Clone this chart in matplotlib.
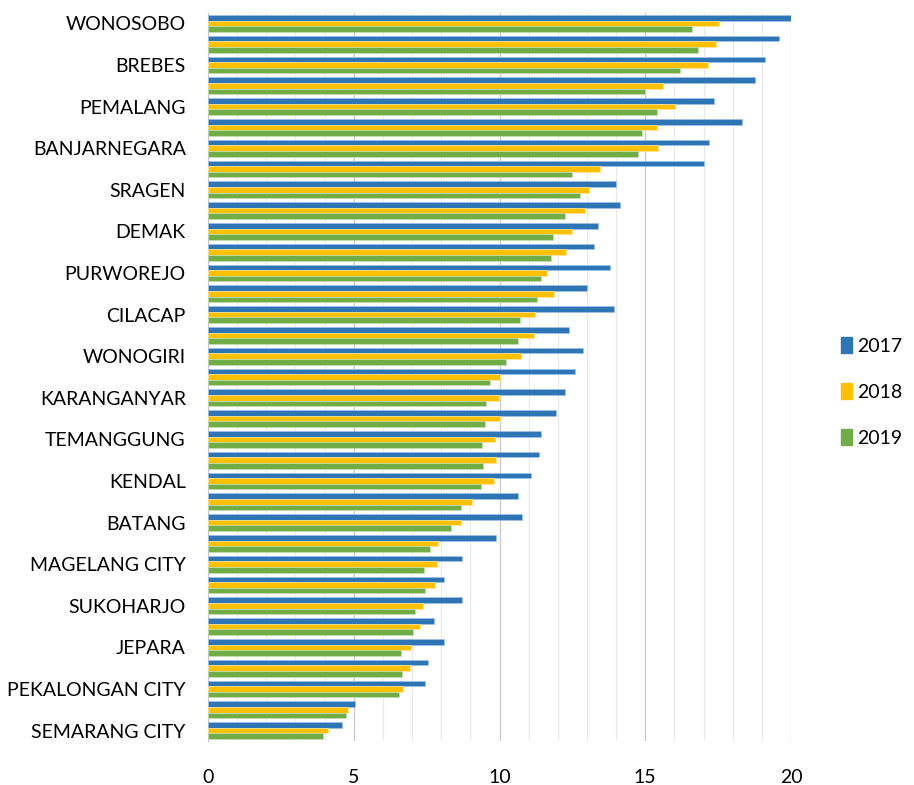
import matplotlib.pyplot as plt
from matplotlib.patches import Patch
import numpy as np

regions = ["WONOSOBO", "KEBUMEN", "BREBES", "PURBALINGGA", "PEMALANG", "REMBANG",
           "BANJARNEGARA", "BANYUMAS", "SRAGEN", "KLATEN", "DEMAK", "GROBOGAN",
           "PURWOREJO", "BLORA", "CILACAP", "BOYOLALI", "WONOGIRI", "PEKALONGAN",
           "KARANGANYAR", "MAGELANG", "TEMANGGUNG", "PATI", "KENDAL", "SURAKARTA CITY",
           "BATANG", "TEGAL", "MAGELANG CITY", "TEGAL CITY", "SUKOHARJO", "SEMARANG",
           "JEPARA", "KUDUS", "PEKALONGAN CITY", "SALATIGA CITY", "SEMARANG CITY"]

v2017 = [20.0, 19.58, 19.12, 18.78, 17.35, 18.32, 17.19, 17.03, 13.98, 14.12,
         13.38, 13.24, 13.78, 13.00, 13.92, 12.38, 12.88, 12.58, 12.24, 11.94,
         11.43, 11.35, 11.07, 10.63, 10.77, 9.87, 8.73, 8.08, 8.73, 7.76,
         8.10, 7.56, 7.44, 5.04, 4.59]
v2018 = [17.53, 17.43, 17.15, 15.61, 16.01, 15.39, 15.43, 13.46, 13.08, 12.92,
         12.50, 12.28, 11.63, 11.86, 11.21, 11.19, 10.73, 10.03, 9.97, 10.01,
         9.85, 9.87, 9.81, 9.05, 8.67, 7.90, 7.84, 7.78, 7.38, 7.28,
         6.96, 6.94, 6.70, 4.81, 4.11]
v2019 = [16.59, 16.81, 16.19, 15.00, 15.39, 14.90, 14.74, 12.50, 12.76, 12.24,
         11.82, 11.76, 11.41, 11.29, 10.69, 10.65, 10.21, 9.69, 9.53, 9.51,
         9.39, 9.43, 9.37, 8.69, 8.32, 7.60, 7.42, 7.44, 7.10, 7.02,
         6.62, 6.66, 6.56, 4.72, 3.95]

years = ["2017", "2018", "2019"]
colors = ["#2E75B6", "#FFC000", "#70AD47"]
edges = ["#9DC3E6", "#FFE699", "#C5E0B4"]

plt.rcParams['font.family'] = ['Lato', 'DejaVu Sans']

fig = plt.figure(figsize=(9.14, 7.85), dpi=100)
ax = fig.add_axes([208/914, 1-741/785, (791-208)/914, (741-13)/785])

y = np.arange(len(regions))
h = 0.27
for i, vals in enumerate([v2017, v2018, v2019]):
    ax.barh(y + (i - 1) * h, vals, height=h, color=colors[i],
            edgecolor=edges[i], linewidth=0.5, zorder=3)

ax.set_xlim(0, 20)
ax.set_ylim(len(regions) - 0.5, -0.5)
ax.set_xticks([0, 5, 10, 15, 20])
ax.set_xticks(np.arange(0, 21, 1), minor=True)
ax.grid(axis='x', which='major', color='#cccccc', linewidth=1, zorder=0)
ax.grid(axis='x', which='minor', color='#e8e8e8', linewidth=0.8, zorder=0)
ax.set_yticks(y[::2])
ax.set_yticklabels(regions[::2])
ax.tick_params(axis='both', which='both', length=0, labelsize=14)
ax.tick_params(axis='x', pad=20)
ax.tick_params(axis='y', pad=16)
for s in ['top', 'right', 'bottom']:
    ax.spines[s].set_visible(False)
ax.spines['left'].set_color('#c8c8c8')

handles = [Patch(color=c, label=l) for c, l in zip(colors, years)]
fig.legend(handles=handles, loc='center left', bbox_to_anchor=(841/914, 1-392/785),
           frameon=False, fontsize=14, handlelength=0.55, handleheight=0.9,
           handletextpad=0.3, labelspacing=1.45, borderpad=0, borderaxespad=0)

fig.savefig("out.png", dpi=100)
